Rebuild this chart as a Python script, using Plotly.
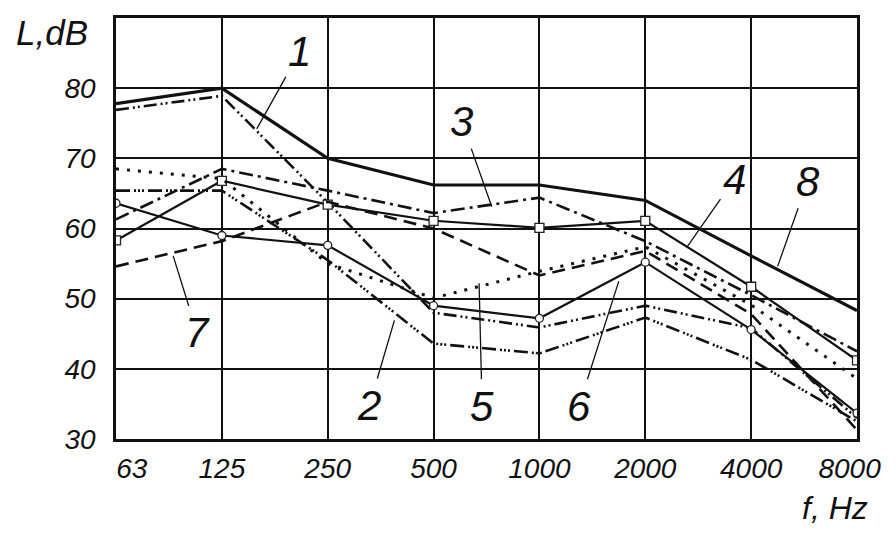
import plotly.graph_objects as go

# ---- data ----
freqs = ["63", "125", "250", "500", "1000", "2000", "4000", "8000"]
curve_1 = [76.9, 78.9, 63.7, 48.0, 45.9, 49.0, 45.8, 33.0]
curve_2 = [65.4, 65.4, 55.5, 43.6, 42.2, 47.3, 41.3, 32.5]
curve_3 = [61.3, 68.5, 65.4, 62.2, 64.4, 58.2, 50.5, 42.5]
curve_4 = [58.3, 66.8, 63.4, 61.1, 60.1, 61.1, 51.7, 41.2]
curve_5 = [68.5, 67.1, 55.0, 50.1, 53.9, 57.4, 49.1, 38.6]
curve_6 = [63.6, 59.0, 57.6, 49.0, 47.2, 55.2, 45.6, 33.7]
curve_7 = [54.6, 58.2, 63.8, 60.0, 53.3, 56.8, 47.8, 31.3]
curve_8 = [77.8, 80.0, 70.0, 66.2, 66.2, 64.0, 56.1, 48.3]
y_ticks = [30, 40, 50, 60, 70, 80]
curve_names = ["1", "2", "3", "4", "5", "6", "7", "8"]

x = list(range(len(freqs)))

FONT = "Liberation Sans"
fig = go.Figure()

styles = {
    "1": dict(dash="13px,4px,2px,3px,2px,4px", width=2.6),
    "2": dict(dash="14px,4px,2px,2px,2px,2px,2px,4px", width=2.6),
    "3": dict(dash="14px,5px,3px,5px", width=2.6),
    "4": dict(dash="solid", width=2.2),
    "5": dict(dash="3px,8px", width=3),
    "6": dict(dash="solid", width=2.2),
    "7": dict(dash="13px,7px", width=2.6),
    "8": dict(dash="solid", width=3.2),
}
series = dict(zip(curve_names, [curve_1, curve_2, curve_3, curve_4,
                                curve_5, curve_6, curve_7, curve_8]))

for name in curve_names:
    st = styles[name]
    kw = dict(mode="lines")
    if name == "4":
        kw = dict(mode="lines+markers",
                  marker=dict(symbol="square", size=9, color="white",
                              line=dict(color="#222", width=1.3)))
    elif name == "6":
        kw = dict(mode="lines+markers",
                  marker=dict(symbol="circle", size=8, color="white",
                              line=dict(color="#222", width=1.3)))
    fig.add_trace(go.Scatter(x=x, y=series[name], name=name,
                             line=dict(color="#111", width=st["width"], dash=st["dash"]),
                             cliponaxis=True, **kw))

# tick label positions (end labels nudged inward like the reference)
label_pos = [float(i) for i in x]
label_pos[0] += 0.15
label_pos[-1] -= 0.07

tickfont = dict(family=FONT, size=28, color="#111", style="italic")

fig.update_xaxes(range=[0, len(freqs) - 1], tickmode="array", tickvals=label_pos,
                 ticktext=freqs, showgrid=False, zeroline=False,
                 showline=True, mirror=True, linecolor="#111", linewidth=2.5,
                 ticks="", tickfont=tickfont, ticklabelstandoff=3,
                 minor=dict(tickmode="array", tickvals=x[1:-1], showgrid=True,
                            gridcolor="#111", gridwidth=1.8, ticks=""))
fig.update_yaxes(range=[30, 90], tickmode="array", tickvals=y_ticks,
                 ticktext=[str(v) for v in y_ticks], showgrid=True,
                 gridcolor="#111", gridwidth=1.8, zeroline=False,
                 showline=True, mirror=True, linecolor="#111", linewidth=2.5,
                 ticks="", tickfont=tickfont, ticklabelstandoff=12)

annotations = [
    dict(text="L,dB", xref="paper", yref="paper", x=-0.137, y=0.965,
         xanchor="left", yanchor="middle", showarrow=False,
         font=dict(family=FONT, size=35, color="#111", style="italic")),
    dict(text="f, Hz", xref="paper", yref="paper", x=1.018, y=-0.165,
         xanchor="right", yanchor="middle", showarrow=False,
         font=dict(family=FONT, size=32, color="#111", style="italic")),
]

# curve number labels with leader lines: (label, x, y on curve, text offset px)
label_specs = [
    ("1", 1.33, 74.2, 43, -77),
    ("3", 3.55, 63.1, -30, -85),
    ("4", 5.40, 57.5, 47, -67),
    ("8", 6.25, 54.6, 30, -85),
    ("7", 0.54, 56.1, 24, 77),
    ("2", 2.63, 46.9, -25, 85),
    ("5", 3.43, 52.2, 3, 123),
    ("6", 4.75, 52.5, -40, 125),
]
for lab, lx, ly, ax, ay in label_specs:
    annotations.append(dict(text=lab, x=lx, y=ly, xref="x", yref="y",
                            ax=ax, ay=ay, axref="pixel", ayref="pixel",
                            showarrow=True, arrowhead=0, arrowwidth=1.3,
                            arrowcolor="#111", standoff=0, startstandoff=2,
                            font=dict(family=FONT, size=42, color="#111",
                                      style="italic")))

# page body adds an 8px margin; compensate so the plot area sits where it does in the reference
fig.update_layout(width=880, height=521,
                  margin=dict(l=108, r=30, t=7, b=90),
                  plot_bgcolor="white", paper_bgcolor="white",
                  showlegend=False, annotations=annotations)

fig.write_html("out.html")
